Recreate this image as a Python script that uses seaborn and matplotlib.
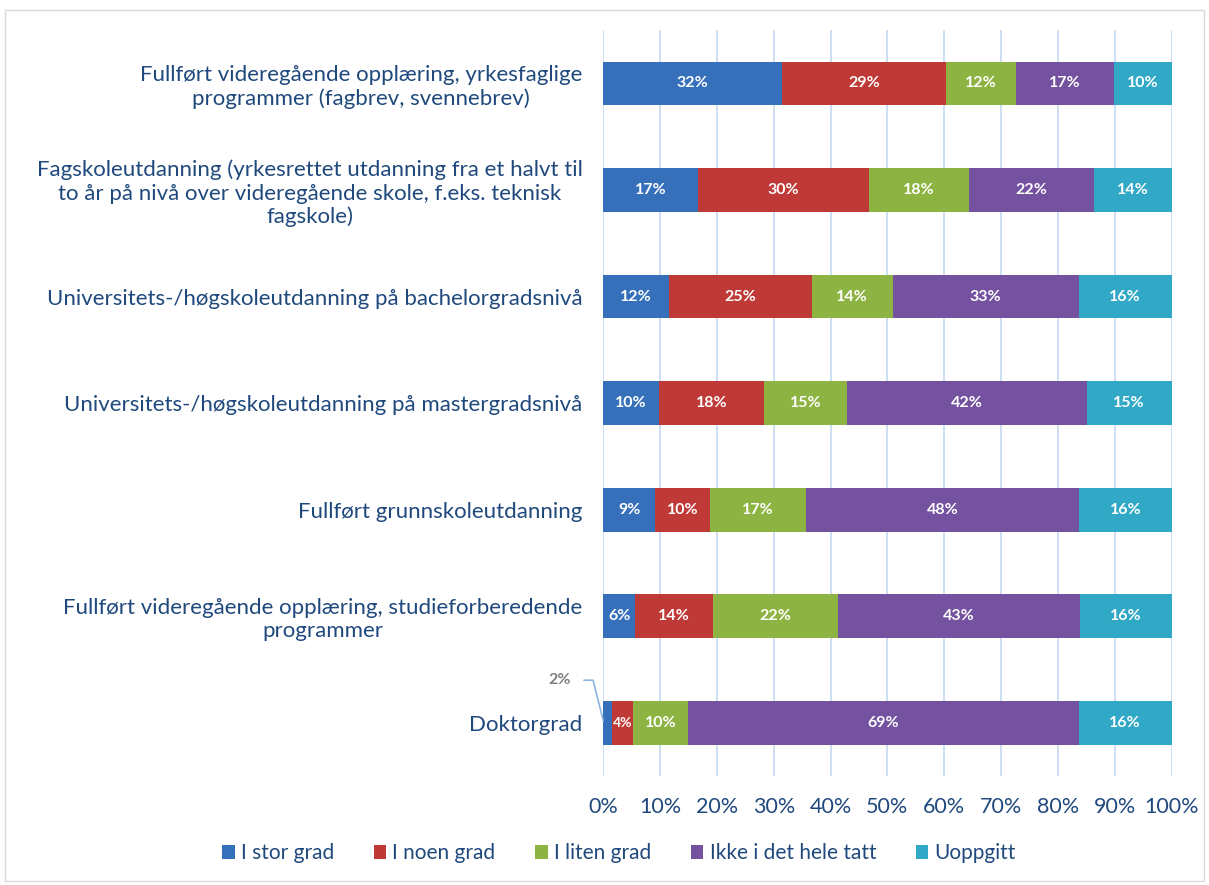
import pandas as pd
import seaborn as sns
import matplotlib.pyplot as plt
from matplotlib.patches import Patch, Rectangle

kategorier = [
    'Fullført videregående opplæring, yrkesfaglige\nprogrammer (fagbrev, svennebrev)',
    'Fagskoleutdanning (yrkesrettet utdanning fra et halvt til\nto år på nivå over videregående skole, f.eks. teknisk\nfagskole)',
    'Universitets-/høgskoleutdanning på bachelorgradsnivå',
    'Universitets-/høgskoleutdanning på mastergradsnivå',
    'Fullført grunnskoleutdanning',
    'Fullført videregående opplæring, studieforberedende\nprogrammer',
    'Doktorgrad',
]
serier = ['I stor grad', 'I noen grad', 'I liten grad', 'Ikke i det hele tatt', 'Uoppgitt']

i_stor_grad = [31.5, 16.6, 11.6, 9.8, 9.1, 5.6, 1.6]
i_noen_grad = [28.8, 30.2, 25.1, 18.5, 9.7, 13.7, 3.6]
i_liten_grad = [12.3, 17.6, 14.2, 14.6, 16.9, 22.0, 9.7]
ikke_i_det_hele_tatt = [17.2, 21.9, 32.8, 42.2, 48.1, 42.6, 68.8]
uoppgitt = [10.2, 13.7, 16.3, 14.9, 16.2, 16.1, 16.3]

farger = ['#3670BA', '#BF3A36', '#8DB443', '#7452A0', '#30A8C6']
tekstfarge = '#1F497D'

df = pd.DataFrame({
    'kategori': kategorier,
    'I stor grad': i_stor_grad,
    'I noen grad': i_noen_grad,
    'I liten grad': i_liten_grad,
    'Ikke i det hele tatt': ikke_i_det_hele_tatt,
    'Uoppgitt': uoppgitt,
})
kum = df[serier].cumsum(axis=1)

sns.set_style('white')
plt.rcParams['font.family'] = ['Lato', 'DejaVu Sans']

fig = plt.figure(figsize=(12.09, 8.85), dpi=100)
ax = fig.add_axes([0.499, 0.123, 0.47, 0.843])

# stablede stolper: tegn kumulative summer bakfra
for i in range(len(serier) - 1, -1, -1):
    sns.barplot(x=kum[serier[i]], y=df['kategori'], orient='h', color=farger[i],
                saturation=1, width=0.41, ax=ax, zorder=3, edgecolor='none', linewidth=0)

for rad in range(len(kategorier)):
    venstre = 0
    for j, s in enumerate(serier):
        v = df.loc[rad, s]
        midt = venstre + v / 2
        if v >= 3:
            ax.text(midt, rad, f'{round(v)}%', ha='center', va='center', color='white',
                    fontsize=11.5 if v >= 5 else 10, fontweight='bold', zorder=5)
        else:
            ax.text(-7.6, rad - 0.40, f'{round(v)}%', ha='center', va='center',
                    color='#7F7F7F', fontsize=11.5, fontweight='bold', zorder=5)
            ax.plot([-3.4, -1.8, venstre], [rad - 0.40, rad - 0.40, rad - 0.02],
                    color='#8DB4E2', lw=1.2, clip_on=False, zorder=5)
        venstre += v

ax.set_xlim(0, 100)
ax.set_ylim(6.5, -0.5)
ax.set_xticks(range(0, 101, 10))
ax.set_xticklabels([f'{t}%' for t in range(0, 101, 10)])
ax.grid(axis='x', color='#C6D9F1', lw=1.2, zorder=0)
ax.set_axisbelow(True)
ax.tick_params(axis='x', length=0, pad=15, labelsize=15.5, labelcolor=tekstfarge)
ax.tick_params(axis='y', length=0, pad=15, labelsize=16, labelcolor=tekstfarge)
for t in ax.get_yticklabels():
    t.set_multialignment('center')
ax.set_xlabel('')
ax.set_ylabel('')
sns.despine(ax=ax, left=True, bottom=True)

handles = [Patch(facecolor=f, edgecolor='none') for f in farger]
leg = fig.legend(handles, serier, loc='center', bbox_to_anchor=(0.512, 0.036), ncol=5,
                 frameon=False, fontsize=15, handlelength=0.6, handleheight=0.7,
                 handletextpad=0.3, columnspacing=1.9)
for t in leg.get_texts():
    t.set_color(tekstfarge)

fig.patches.append(Rectangle((0.004, 0.004), 0.992, 0.985, transform=fig.transFigure,
                             fill=False, edgecolor='#D9D9D9', lw=1))

fig.savefig('out.png', dpi=100)
